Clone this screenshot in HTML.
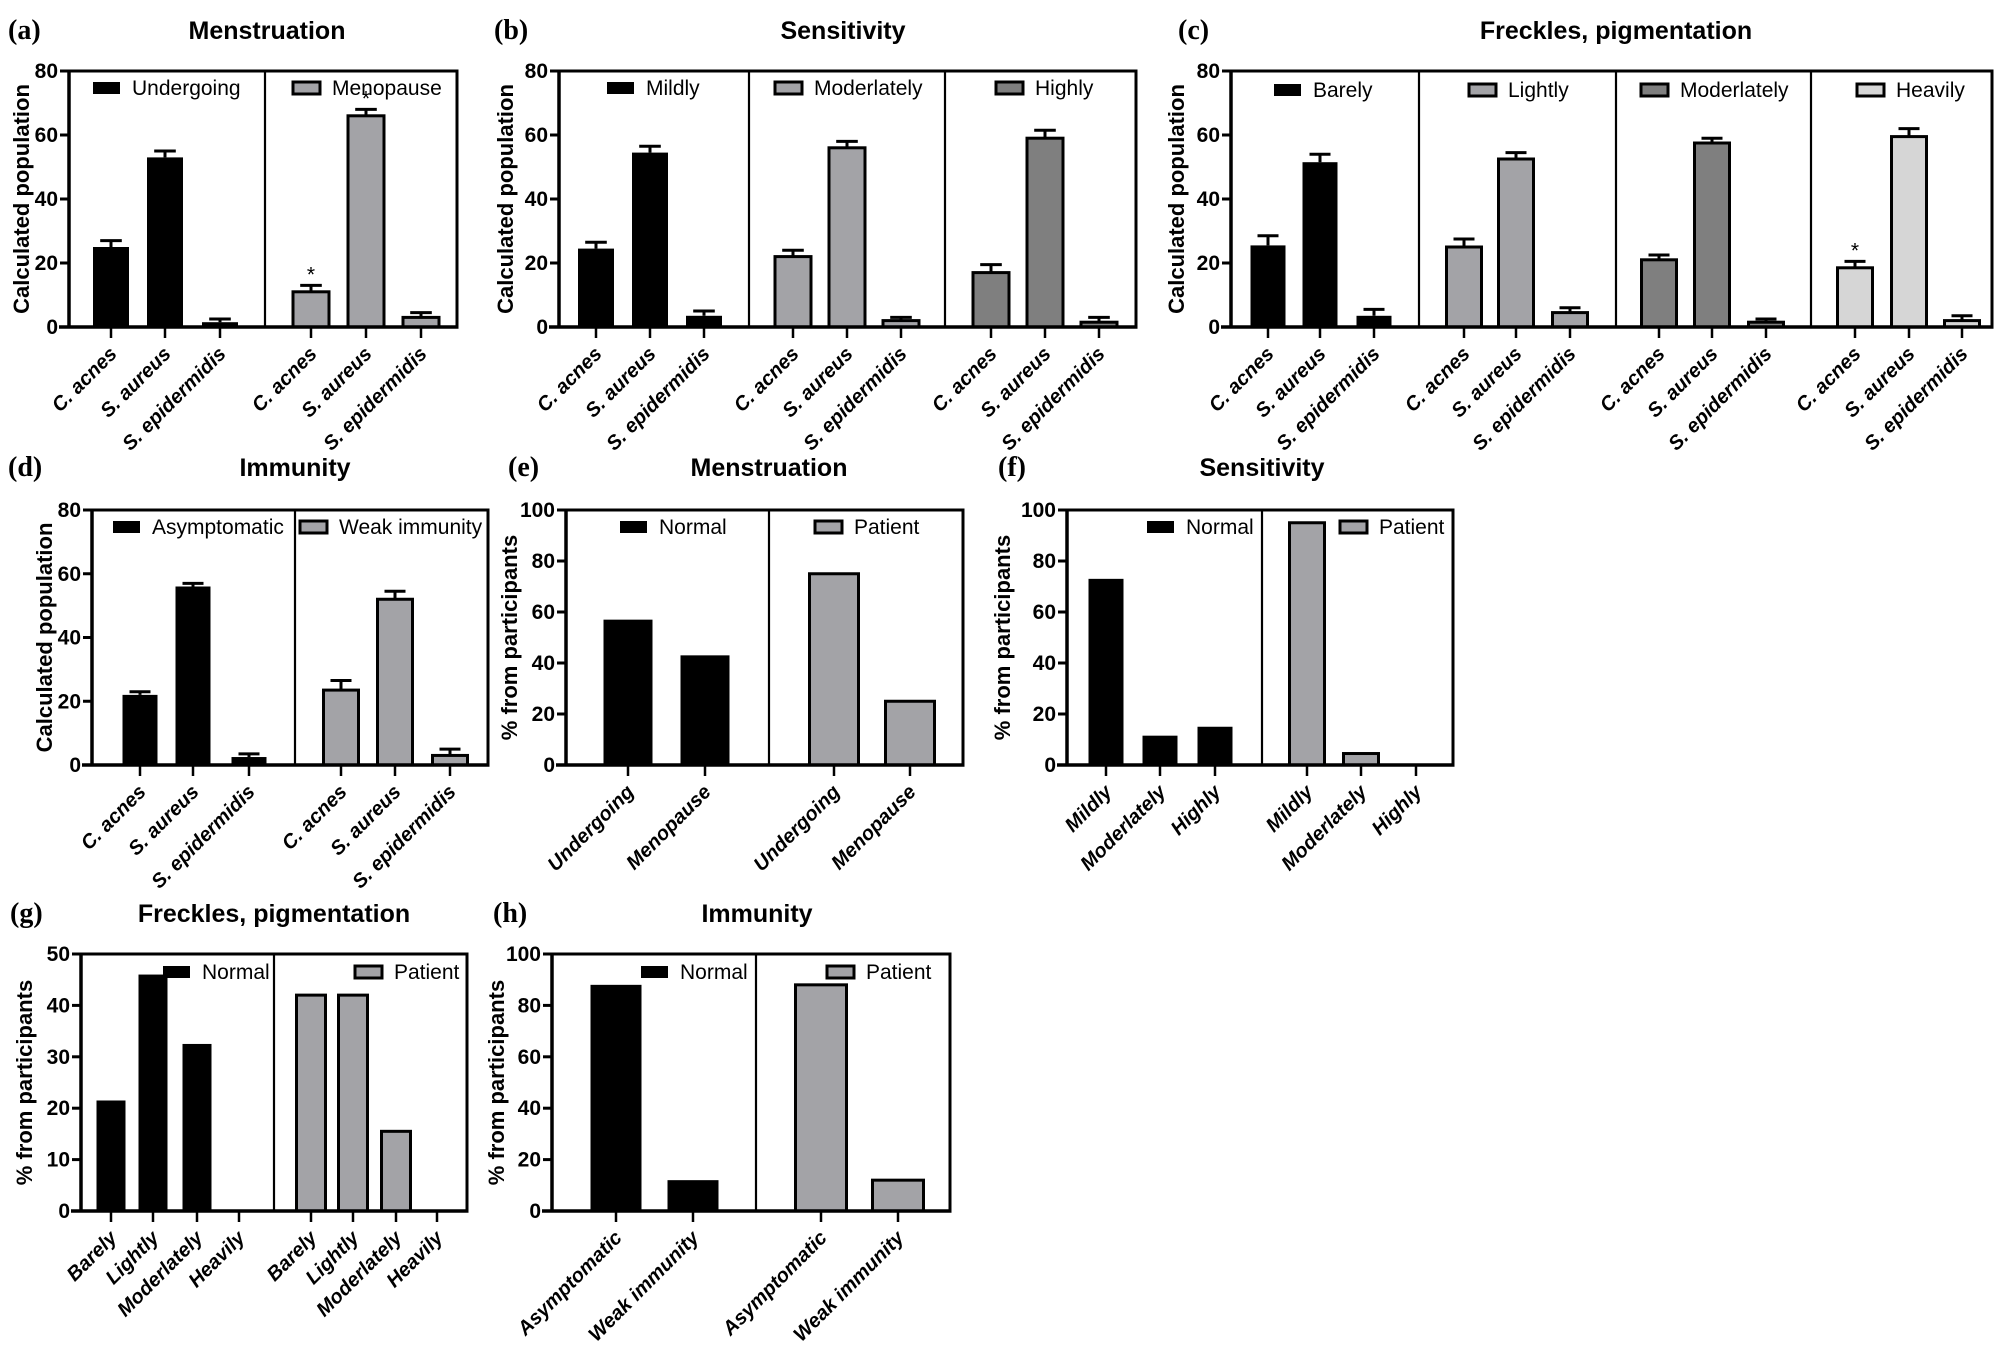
<!DOCTYPE html>
<html><head><meta charset="utf-8"><style>
html,body{margin:0;padding:0;background:#fff;}
svg{display:block;}
.tk{font-family:"Liberation Sans Narrow","Liberation Sans",sans-serif;font-weight:bold;font-size:21px;}
.ti{font-family:"Liberation Sans Narrow","Liberation Sans",sans-serif;font-weight:bold;font-size:25px;}
.lg{font-family:"Liberation Sans Narrow","Liberation Sans",sans-serif;font-size:21px;}
.yt{font-family:"Liberation Sans",sans-serif;font-weight:bold;font-size:22px;}
.xl{font-family:"Liberation Sans",sans-serif;font-weight:bold;font-style:italic;font-size:20px;}
.pl{font-family:"Liberation Serif",serif;font-weight:bold;font-size:28px;}
</style></head><body>
<svg id="fig" width="2008" height="1347" viewBox="0 0 2008 1347" xmlns="http://www.w3.org/2000/svg"></svg>
<script>
// ---- data ----
const bacteria=["C. acnes","S. aureus","S. epidermidis"];
const aGroups=["Undergoing","Menopause"];
const aValues=[[25,53,1.5],[11,66,3]];
const aErrors=[[2,2,1],[2,2,1.5]];
const bGroups=["Mildly","Moderlately","Highly"];
const bValues=[[24.5,54.5,3.5],[22,56,2],[17,59,1.5]];
const bErrors=[[2,2,1.5],[2,2,1],[2.5,2.5,1.5]];
const cGroups=["Barely","Lightly","Moderlately","Heavily"];
const cValues=[[25.5,51.5,3.5],[25,52.5,4.5],[21,57.5,1.5],[18.5,59.5,2]];
const cErrors=[[3,2.5,2],[2.5,2,1.5],[1.5,1.5,1],[2,2.5,1.5]];
const dGroups=["Asymptomatic","Weak immunity"];
const dValues=[[22,56,2.5],[23.5,52,3]];
const dErrors=[[1,1,1],[3,2.5,2]];
const eGroups=["Normal","Patient"];
const eCats=["Undergoing","Menopause"];
const eValues=[[57,43],[75,25]];
const fCats=["Mildly","Moderlately","Highly"];
const fValues=[[73,11.5,15],[95,4.5,0]];
const gCats=["Barely","Lightly","Moderlately","Heavily"];
const gValues=[[21.5,46,32.5,0],[42,42,15.5,0]];
const hCats=["Asymptomatic","Weak immunity"];
const hValues=[[88,12],[88,12]];
const ticks80=[0,20,40,60,80];
const ticks100=[0,20,40,60,80,100];
const ticks50=[0,10,20,30,40,50];

const NS="http://www.w3.org/2000/svg";
const svg=document.getElementById('fig');
function mk(tag,at,parent){const e=document.createElementNS(NS,tag);for(const k in at)e.setAttribute(k,at[k]);(parent||svg).appendChild(e);return e;}
function txt(s,at,cls,parent){const e=mk('text',at,parent);e.setAttribute('class',cls);e.textContent=s;return e;}

function panel(p){
  const g=mk('g',{});
  
  
  const ymax=p.ticks[p.ticks.length-1];
  const Y=v=>p.bottom-v/ymax*(p.bottom-p.top);
  const t1=txt(p.letter,{x:p.letterX,y:p.titleY+9},'pl',g);
  
  const t2=txt(p.title,{x:p.titleX,y:p.titleY+9,'text-anchor':'middle'},'ti',g);
  
  const cy=(p.top+p.bottom)/2;
  const yt=txt(p.ytitle,{x:p.ytX,y:cy,'text-anchor':'middle',transform:`rotate(-90 ${p.ytX} ${cy})`},'yt',g);
  
  p.values.forEach((grp,gi)=>{
    grp.forEach((v,i)=>{
      const cx=p.centers[gi][i];
      const fill=p.fills[gi];
      if(v>0){
        const r=mk('rect',{x:cx-p.bw/2,y:Y(v),width:p.bw,height:p.bottom-Y(v),fill:fill,stroke:'#000','stroke-width':fill==='#000'?0:3},g);
        
      }
      if(p.errors){
        const e=p.errors[gi][i];
        const ey=Y(v+e);
        const l=mk('path',{d:`M${cx} ${Y(v)}V${ey}M${cx-p.bw*0.3} ${ey}H${cx+p.bw*0.3}`,stroke:'#000','stroke-width':3,fill:'none'},g);
        
      }
      mk('line',{x1:cx,x2:cx,y1:p.bottom,y2:p.bottom+11,stroke:'#000','stroke-width':2.5},g);
      const lx=cx+7,ly=p.bottom+28;
      const lab=txt(p.cats[i],{x:lx,y:ly,'text-anchor':'end',transform:`rotate(-45 ${lx} ${ly})`},'xl',g);
      
    });
  });
  (p.stars||[]).forEach(s=>{
    const v=p.values[s[0]][s[1]]+(p.errors?p.errors[s[0]][s[1]]:0);
    const st=txt('*',{x:p.centers[s[0]][s[1]],y:Y(v)-4,'text-anchor':'middle'},'lg',g);
    
  });
  mk('path',{d:`M${p.x0} ${p.top}H${p.x1}V${p.bottom}`,stroke:'#000','stroke-width':3,fill:'none'},g);
  p.divs.forEach(d=>mk('line',{x1:d,x2:d,y1:p.top,y2:p.bottom,stroke:'#000','stroke-width':2.2},g));
  mk('line',{x1:p.x0,x2:p.x0,y1:p.top-1.5,y2:p.bottom,stroke:'#000','stroke-width':3.5},g);
  mk('line',{x1:p.x0-10,x2:p.x1+1.5,y1:p.bottom,y2:p.bottom,stroke:'#000','stroke-width':3.5},g);
  p.ticks.forEach(t=>{
    mk('line',{x1:p.x0-9,x2:p.x0,y1:Y(t),y2:Y(t),stroke:'#000','stroke-width':3},g);
    const tl=txt(String(t),{x:p.x0-11,y:Y(t)+7,'text-anchor':'end'},'tk',g);
    
  });
  p.groups.forEach((name,gi)=>{
    const lx=p.legX[gi];
    const sw=mk('rect',{x:lx,y:p.legY-6,width:27,height:12,fill:p.fills[gi],stroke:'#000','stroke-width':p.fills[gi]==='#000'?0:3},g);
    
    const lt=txt(name,{x:lx+39,y:p.legY+7},'lg',g);
    
  });
}
const K='#000',G='#a3a3a7',D='#7f7f7f',L='#d6d6d6';
panel({name:'panel-a',letter:'(a)',letterX:8,title:'Menstruation',titleX:267,titleY:30,ytitle:'Calculated population',ytX:29,
  x0:69,x1:457,top:71,bottom:327,ticks:ticks80,divs:[265],bw:36,
  centers:[[111,165,220],[311,366,421]],cats:bacteria,groups:aGroups,values:aValues,errors:aErrors,fills:[K,G],
  legX:[93,293],legY:88,stars:[[1,0],[1,1]]});
panel({name:'panel-b',letter:'(b)',letterX:494,title:'Sensitivity',titleX:843,titleY:30,ytitle:'Calculated population',ytX:513,
  x0:559,x1:1136,top:71,bottom:327,ticks:ticks80,divs:[749,945],bw:36,
  centers:[[596,650,704],[793,847,901],[991,1045,1099]],cats:bacteria,groups:bGroups,values:bValues,errors:bErrors,fills:[K,G,D],
  legX:[607,775,996],legY:88});
panel({name:'panel-c',letter:'(c)',letterX:1178,title:'Freckles, pigmentation',titleX:1616,titleY:30,ytitle:'Calculated population',ytX:1184,
  x0:1231,x1:1992,top:71,bottom:327,ticks:ticks80,divs:[1419,1616,1811],bw:35,
  centers:[[1268,1320,1374],[1464,1516,1570],[1659,1712,1766],[1855,1909,1962]],cats:bacteria,groups:cGroups,values:cValues,errors:cErrors,fills:[K,G,D,L],
  legX:[1274,1469,1641,1857],legY:90,stars:[[3,0]]});
panel({name:'panel-d',letter:'(d)',letterX:8,title:'Immunity',titleX:295,titleY:467,ytitle:'Calculated population',ytX:52,
  x0:92,x1:488,top:510,bottom:765,ticks:ticks80,divs:[295],bw:35,
  centers:[[140,193,249],[341,395,450]],cats:bacteria,groups:dGroups,values:dValues,errors:dErrors,fills:[K,G],
  legX:[113,300],legY:527});
panel({name:'panel-e',letter:'(e)',letterX:508,title:'Menstruation',titleX:769,titleY:467,ytitle:'% from participants',ytX:517,
  x0:566,x1:963,top:510,bottom:765,ticks:ticks100,divs:[769],bw:49,
  centers:[[628,705],[834,910]],cats:eCats,groups:eGroups,values:eValues,fills:[K,G],
  legX:[620,815],legY:527});
panel({name:'panel-f',letter:'(f)',letterX:998,title:'Sensitivity',titleX:1262,titleY:467,ytitle:'% from participants',ytX:1010,
  x0:1067,x1:1453,top:510,bottom:765,ticks:ticks100,divs:[1262],bw:35,
  centers:[[1106,1160,1215],[1307,1361,1416]],cats:fCats,groups:eGroups,values:fValues,fills:[K,G],
  legX:[1147,1340],legY:527});
panel({name:'panel-g',letter:'(g)',letterX:10,title:'Freckles, pigmentation',titleX:274,titleY:913,ytitle:'% from participants',ytX:32,
  x0:81,x1:467,top:954,bottom:1211,ticks:ticks50,divs:[274],bw:29,
  centers:[[111,153,197,239],[311,353,396,437]],cats:gCats,groups:eGroups,values:gValues,fills:[K,G],
  legX:[163,355],legY:972});
panel({name:'panel-h',letter:'(h)',letterX:493,title:'Immunity',titleX:757,titleY:913,ytitle:'% from participants',ytX:504,
  x0:552,x1:950,top:954,bottom:1211,ticks:ticks100,divs:[756],bw:51,
  centers:[[616,693],[821,898]],cats:hCats,groups:eGroups,values:hValues,fills:[K,G],
  legX:[641,827],legY:972});
</script>
</body></html>
